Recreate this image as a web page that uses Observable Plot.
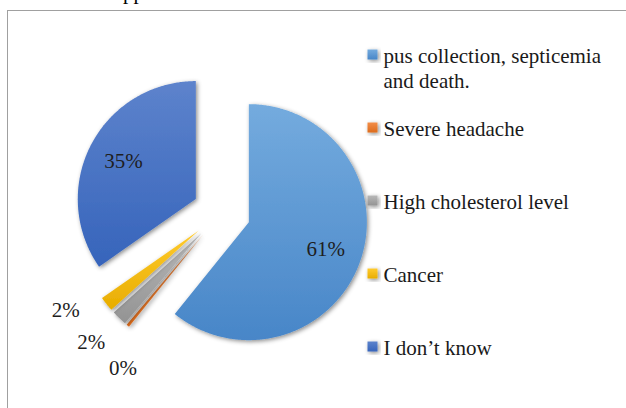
<!DOCTYPE html>
<html><head><meta charset="utf-8">
<script src="https://cdn.jsdelivr.net/npm/d3@7"></script>
<script src="https://cdn.jsdelivr.net/npm/@observablehq/plot@0.6"></script>
<style>
body{margin:0;background:#fff;}
#wrap{position:relative;width:626px;height:408px;overflow:hidden;background:#fff;}
#frame{position:absolute;left:7px;top:10px;width:700px;height:500px;border-left:1px solid #a0a0a0;border-top:1px solid #a0a0a0;}
#frag{position:absolute;left:123px;top:-18px;font-size:21px;line-height:21px;color:#000;font-family:"Liberation Serif","Tinos","Nimbus Roman","DejaVu Serif",serif;}
#chart{position:absolute;left:0;top:0;}
</style></head><body>
<div id="wrap"><div id="frag">pp</div><div id="frame"></div><div id="chart"></div></div>
<script>
// ---- data ----
const categories = ["pus collection, septicemia and death.", "Severe headache", "High cholesterol level", "Cancer", "I don\u2019t know"];
const legendLabels = ["pus collection, septicemia\nand death.", "Severe headache", "High cholesterol level", "Cancer", "I don\u2019t know"];
const values = [60.8, 0.4, 2.1, 2.0, 34.7];
const colorsTop = ["#74abde", "#f28d48", "#b8b8b8", "#ffcb2e", "#5d83cc"];
const colorsBottom = ["#4886c8", "#dd6c1c", "#939393", "#e8ad00", "#3664bb"];

// ---- layout ----
const FONT = "Liberation Serif, Tinos, Nimbus Roman, DejaVu Serif, serif";
const W = 626, H = 408, cx = 221, cy = 212, R = 118, explode = 29 / 118;
const px2x = p => (p - cx) / R, px2y = p => (cy - p) / R;

const arcs = d3.pie().sort(null).value(d => d)(values);
const slices = arcs.map((a, i) => {
  const mid = (a.startAngle + a.endAngle) / 2;
  const ox = explode * Math.sin(mid), oy = explode * Math.cos(mid);
  const pts = [{x: ox, y: oy}];
  const n = Math.max(2, Math.ceil((a.endAngle - a.startAngle) / 0.01));
  for (let k = 0; k <= n; k++) {
    const t = a.startAngle + (a.endAngle - a.startAngle) * k / n;
    pts.push({x: ox + Math.sin(t), y: oy + Math.cos(t)});
  }
  return {i, mid, ox, oy, pts};
});

// percent labels
const labels = [];
const small = [];
slices.forEach(s => {
  const txt = Math.round(values[s.i]) + "%";
  if (values[s.i] >= 10) {
    labels.push({x: s.ox + 0.69 * Math.sin(s.mid), y: s.oy + 0.69 * Math.cos(s.mid), text: txt});
  } else small.push({s, txt});
});
if (small.length) {
  const gap = 12.75 * Math.PI / 180;
  const mean = d3.mean(small, d => d.s.mid);
  small.forEach((d, k) => {
    const ang = mean + (k - (small.length - 1) / 2) * gap;
    const rr = 1.56;
    labels.push({x: rr * Math.sin(ang), y: rr * Math.cos(ang), text: d.txt});
  });
}

const legendY = i => 54 + 73 * i;
const marks = [];
slices.forEach(s => {
  marks.push(Plot.line(s.pts, {x: "x", y: "y", fill: `url(#slice${s.i})`, stroke: "none"}));
});
marks.push(Plot.text(labels, {x: "x", y: "y", text: "text", fontSize: 21, fontFamily: FONT, fill: "#1e1e1e", textAnchor: "middle", lineAnchor: "middle"}));
categories.forEach((c, i) => {
  marks.push(Plot.dot([i], {x: () => px2x(372), y: () => px2y(legendY(i)), symbol: "square", r: 5.64, fill: `url(#slice${i})`, stroke: "none"}));
});
marks.push(Plot.text(d3.range(categories.length), {
  x: () => px2x(383), y: i => px2y(legendY(i) - 9.5), text: i => legendLabels[i],
  textAnchor: "start", lineAnchor: "top", fontSize: 21, fontFamily: FONT, lineHeight: 1.19, fill: "#1a1a1a"
}));

const plot = Plot.plot({
  width: W, height: H,
  marginTop: 0, marginRight: 0, marginBottom: 0, marginLeft: 0,
  x: {domain: [px2x(0), px2x(W)], axis: null},
  y: {domain: [px2y(H), px2y(0)], axis: null},
  style: {fontFamily: FONT, background: "transparent", overflow: "visible"},
  marks
});

const svg = d3.select(plot);
const defs = svg.insert("defs", ":first-child");
colorsTop.forEach((c, i) => {
  const g = defs.append("linearGradient").attr("id", `slice${i}`).attr("x1", 0).attr("y1", 0).attr("x2", 0).attr("y2", 1);
  g.append("stop").attr("offset", "0%").attr("stop-color", c);
  g.append("stop").attr("offset", "100%").attr("stop-color", colorsBottom[i]);
});
const f = defs.append("filter").attr("id", "shadow").attr("x", "-30%").attr("y", "-30%").attr("width", "160%").attr("height", "160%");
f.append("feDropShadow").attr("dx", 1.5).attr("dy", 1.5).attr("stdDeviation", 2).attr("flood-color", "#000").attr("flood-opacity", 0.45);
svg.selectAll("g[fill^='url(#slice']").attr("filter", "url(#shadow)");
document.getElementById("chart").appendChild(plot);
</script>
</body></html>
